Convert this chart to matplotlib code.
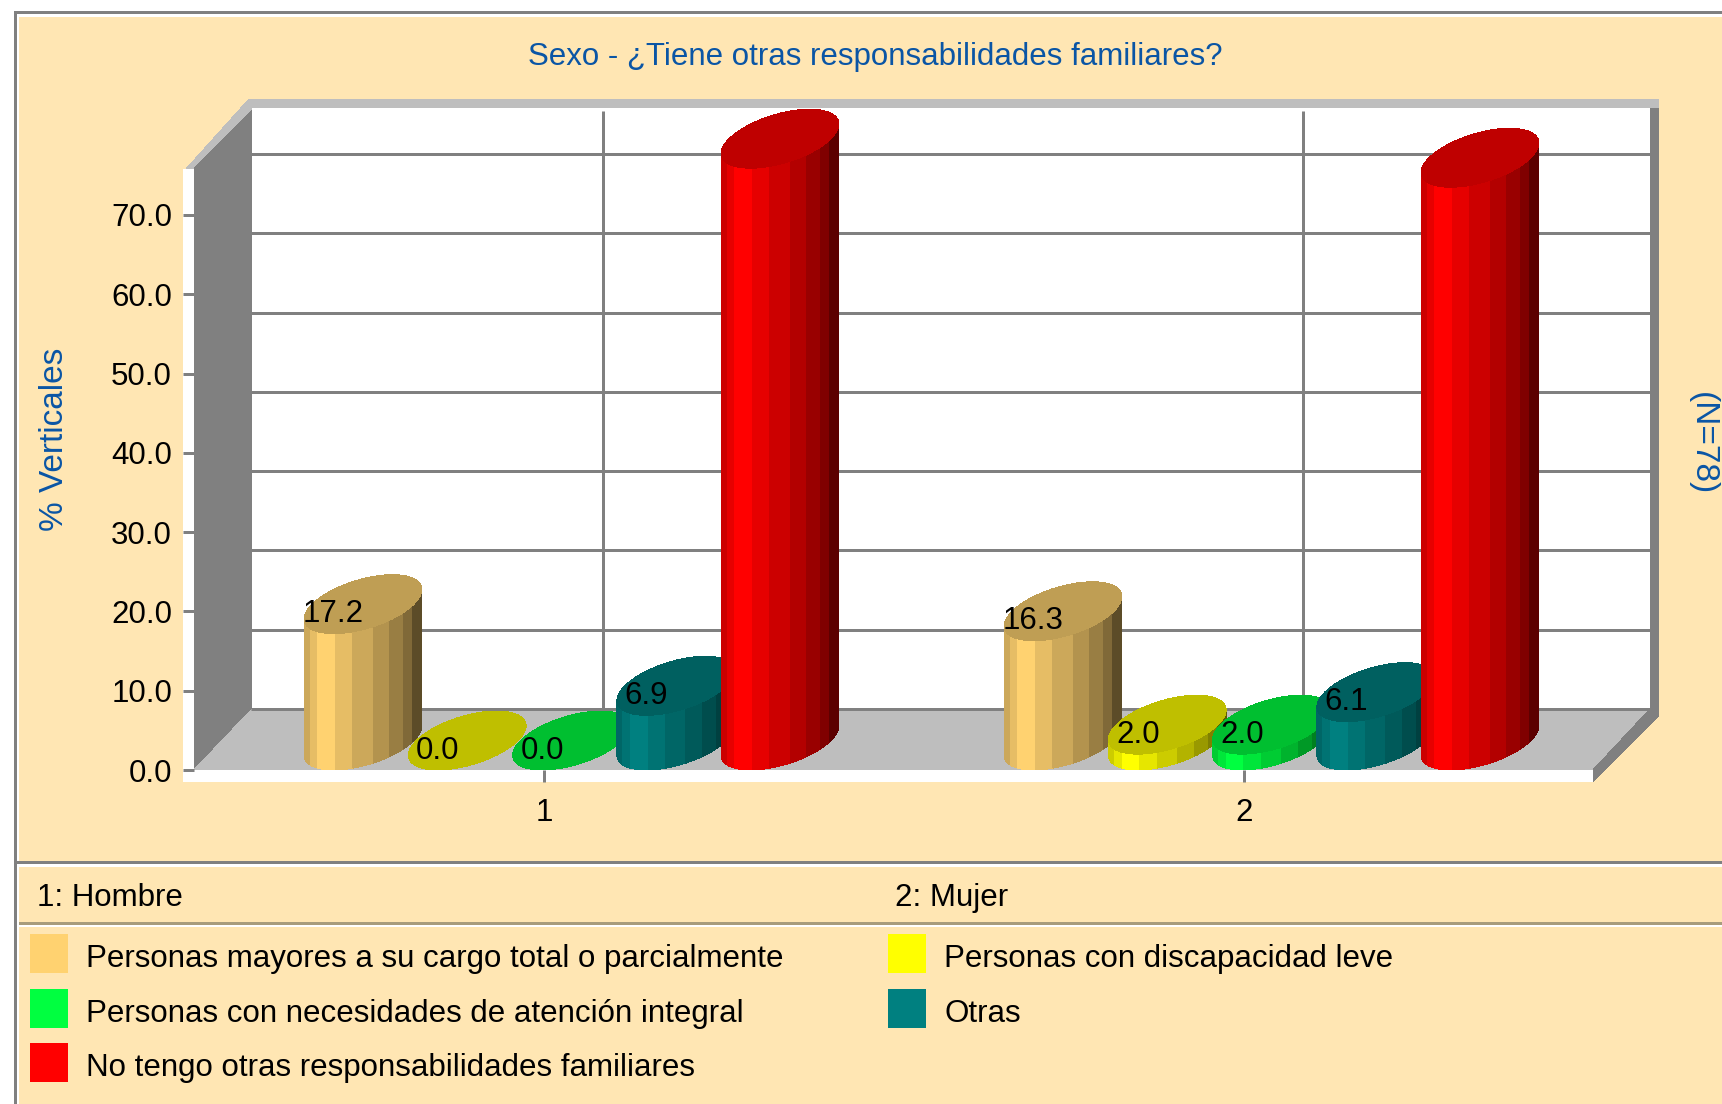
import numpy as np
import matplotlib
matplotlib.use("Agg")
import matplotlib.pyplot as plt
from matplotlib.patches import Polygon, Rectangle

plt.rcParams['font.family'] = ['Liberation Sans', 'DejaVu Sans']

categories = [1, 2]
category_names = ["1: Hombre", "2: Mujer"]
series_names = ["Personas mayores a su cargo total o parcialmente",
                "Personas con discapacidad leve",
                "Personas con necesidades de atención integral",
                "Otras",
                "No tengo otras responsabilidades familiares"]
series_colors = ["#FFD270", "#FFFF00", "#00FF40", "#008080", "#FF0000"]
hombre = [17.2, 0.0, 0.0, 6.9, 75.9]
mujer = [16.3, 2.0, 2.0, 6.1, 73.5]
y_ticks = [0, 10, 20, 30, 40, 50, 60, 70]

title = "Sexo - ¿Tiene otras responsabilidades familiares?"
y_label = "% Verticales"
right_label = "(N=78)"

BG = "#FFE6B3"
GRAY = "#808080"
LIGHT = "#BEBEBE"
BLUE = "#0A55A5"
FS = 22.5

W, H = 1722, 1104
fig = plt.figure(figsize=(W / 100, H / 100), dpi=100, facecolor="white")

# background panels, in pixels
bg = fig.add_axes([0, 0, 1, 1])
bg.set_xlim(0, W)
bg.set_ylim(H, 0)
bg.axis("off")


def box(x0, y0, x1, y1, color):
    bg.add_patch(Rectangle((x0, y0), x1 - x0, y1 - y0, fc=color, ec="none", antialiased=False))


def poly(pts, color):
    bg.add_patch(Polygon(pts, closed=True, fc=color, ec="none", antialiased=False))


box(14, 11, W, H, GRAY)
box(17, 14, W, H, "white")
box(19, 17, W, H, BG)
box(17, 861, W, 864, GRAY)
box(17, 864, W, 867, "white")
box(19, 867, W, H, BG)
box(19, 922, W, 925, "#A89C7C")
box(19, 925, W, 927, "white")
box(19, 927, W, H, BG)

# 3d box of the chart
box(183, 169, 194, 782, "white")
box(194, 770, 1593, 782, "white")
box(252, 108, 1650, 709, "white")
poly([(186, 169), (194, 169), (252, 110), (252, 99), (249, 99)], LIGHT)
box(249, 99, 1659, 108, LIGHT)
poly([(194, 169), (252, 110), (252, 709), (194, 770)], GRAY)
poly([(194, 770), (252, 709), (1650, 709), (1593, 770)], LIGHT)
box(1650, 108, 1659, 715, GRAY)
poly([(1650, 709), (1659, 715), (1593, 782), (1593, 770)], GRAY)

# main axes sit on the front plane of the box
ax = fig.add_axes([194 / W, 1 - 770 / H, 1400 / W, 555 / H])
ax.patch.set_visible(False)
ax.set_xlim(0.5, 2.5)
ax.set_ylim(0, 70)
for s in ax.spines.values():
    s.set_visible(False)

px_x = 2 / 1400
px_y = 70 / 555
wall_dx = 59 * px_x
wall_dy = 61 * px_y
wall_top = 75.8

for v in y_ticks:
    ax.plot([0.5 + wall_dx - 2 * px_x, 2.5 + wall_dx - 2 * px_x], [v + wall_dy, v + wall_dy], color=GRAY, lw=2.16,
            solid_capstyle="butt", clip_on=False, zorder=1)
for c in categories:
    ax.plot([c + wall_dx, c + wall_dx], [wall_dy, wall_dy + wall_top - 0.4], color=GRAY, lw=2.16,
            solid_capstyle="butt", clip_on=False, zorder=1)

ax.set_yticks(y_ticks)
ax.set_yticklabels(["%.1f" % v for v in y_ticks])
ax.set_xticks(categories)
ax.set_xticklabels([str(c) for c in categories])
ax.tick_params(axis="y", length=7.9, width=2.16, color=GRAY, pad=7.9, labelsize=FS)
ax.tick_params(axis="x", length=8.6, width=2.16, color=GRAY, pad=11.5, labelsize=FS)

# cylinders
bar_step = 104.25 * px_x
bar_r = 51 * px_x
bar_dx = 59 * px_x
bar_dy = 59 * px_y
bar_shift = -2 * px_x
edges = [0, .051, .116, .266, .415, .585, .729, .847, .924, 1]
shades = [.8, .9, 1, .9, .8, .7, .6, .5, .36]
top_shade = .75
alpha = np.arctan2(29.5, 51)


def shade(col, f):
    rgb = np.array(matplotlib.colors.to_rgb(col))
    return tuple(rgb * f)


def rim(x, v, phi):
    # point on the sheared circle at height v, x is the front centre of the bar
    t = phi + alpha
    px = x + bar_r * np.cos(t) + bar_dx / 2 * (1 + np.sin(t))
    py = v + bar_dy / 2 * (1 + np.sin(t))
    return px, py


def cylinder(x, v, col, z):
    if v > 0:
        for i in range(len(shades)):
            phi = np.linspace(np.arccos(1 - 2 * edges[i]) + np.pi, np.arccos(1 - 2 * edges[i + 1]) + np.pi, 8)
            xa, ya = rim(x, 0, phi)
            xb, yb = rim(x, v, phi)
            pts = np.column_stack([np.r_[xa, xb[::-1]], np.r_[ya, yb[::-1]]])
            ax.add_patch(Polygon(pts, closed=True, fc=shade(col, shades[i]), ec="none",
                                 clip_on=False, zorder=z, antialiased=False))
    xt, yt = rim(x, v, np.linspace(0, 2 * np.pi, 90))
    ax.add_patch(Polygon(np.column_stack([xt, yt]), closed=True, fc=shade(col, top_shade), ec="none",
                         clip_on=False, zorder=z + 0.5, antialiased=False))


for c, vals in zip(categories, [hombre, mujer]):
    for i, v in enumerate(vals):
        x = c + (i - 2) * bar_step + bar_shift
        cylinder(x, v, series_colors[i], 2 + i)
        ax.annotate("%.1f" % v, (x, v), xytext=(0, 14), textcoords="offset points", ha="center",
                    va="center", fontsize=FS, color="black", zorder=10)

# texts
bg.text(875, 57, title, color=BLUE, fontsize=FS, ha="center", va="center")
bg.text(55, 439, y_label, color=BLUE, fontsize=24, ha="center", va="center", rotation=90)
bg.text(1702, 444, right_label, color=BLUE, fontsize=24, ha="center", va="center", rotation=270)

bg.text(37, 898, category_names[0], fontsize=FS, va="center")
bg.text(895, 898, category_names[1], fontsize=FS, va="center")

legend_x = [30, 888]
legend_y = [934, 989, 1043]
for i, name in enumerate(series_names):
    col = i % 2
    row = i // 2
    box(legend_x[col], legend_y[row], legend_x[col] + 38, legend_y[row] + 39, series_colors[i])
    bg.text(legend_x[col] + 56, legend_y[row] + 25, name, fontsize=FS, va="center")

fig.savefig("out.png", dpi=100)
